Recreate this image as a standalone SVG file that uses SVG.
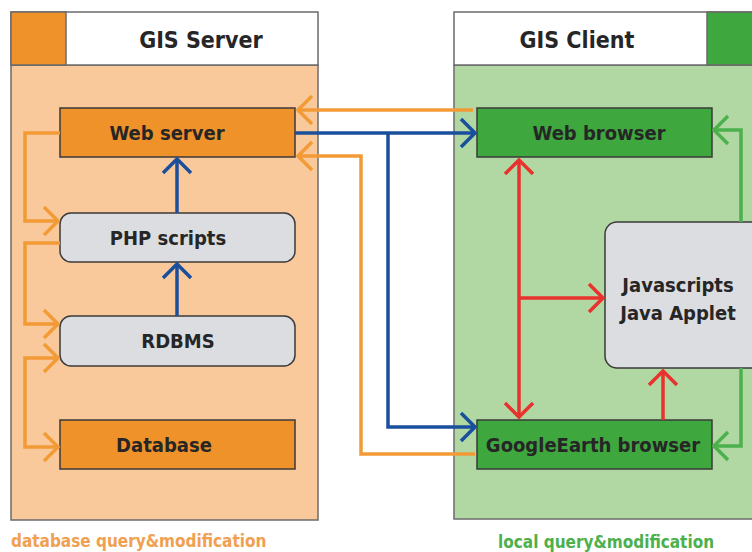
<svg xmlns="http://www.w3.org/2000/svg" width="752" height="552" viewBox="0 0 752 552">
<defs>
<style>
.panel{stroke:#6b6b6b;stroke-width:1.5}
.box{stroke:#3a3a3a;stroke-width:1.5}
.lbl{font-family:"DejaVu Sans Condensed","DejaVu Sans",sans-serif;font-weight:bold;font-size:20px;fill:#262626;text-anchor:middle}
.hdr{font-family:"DejaVu Sans Condensed","DejaVu Sans",sans-serif;font-weight:bold;font-size:23px;fill:#262626;text-anchor:middle}
.foot{font-family:"DejaVu Sans Condensed","DejaVu Sans",sans-serif;font-weight:bold;font-size:17px}
.c{fill:none;stroke-width:3.5}
.or{stroke:#f29b36}
.bl{stroke:#1a4f9c}
.rd{stroke:#e8322e}
.gr{stroke:#4cb04c}
</style>
<marker id="aO" viewBox="-16 -16 20 32" refX="0" refY="0" markerWidth="20" markerHeight="32" markerUnits="userSpaceOnUse" orient="auto-start-reverse"><path d="M-14,-14 L0,0 L-14,14" fill="none" stroke="#f29b36" stroke-width="3.5"/></marker>
<marker id="aB" viewBox="-16 -16 20 32" refX="0" refY="0" markerWidth="20" markerHeight="32" markerUnits="userSpaceOnUse" orient="auto-start-reverse"><path d="M-14,-14 L0,0 L-14,14" fill="none" stroke="#1a4f9c" stroke-width="3.5"/></marker>
<marker id="aR" viewBox="-16 -16 20 32" refX="0" refY="0" markerWidth="20" markerHeight="32" markerUnits="userSpaceOnUse" orient="auto-start-reverse"><path d="M-14,-14 L0,0 L-14,14" fill="none" stroke="#e8322e" stroke-width="3.5"/></marker>
<marker id="aG" viewBox="-16 -16 20 32" refX="0" refY="0" markerWidth="20" markerHeight="32" markerUnits="userSpaceOnUse" orient="auto-start-reverse"><path d="M-14,-14 L0,0 L-14,14" fill="none" stroke="#4cb04c" stroke-width="3.5"/></marker>
</defs>
<rect width="752" height="552" fill="#ffffff"/>

<g id="server-panel">
<rect class="panel" x="11" y="65" width="307" height="455" fill="#f9c99b"/>
<rect class="panel" x="11" y="12" width="307" height="53" fill="#ffffff"/>
<rect class="panel" x="11" y="12" width="55" height="53" fill="#f0922a"/>
<text class="hdr" x="201" y="48">GIS Server</text>
</g>
<g id="client-panel">
<rect class="panel" x="454" y="65" width="310" height="454" fill="#b1d8a2"/>
<rect class="panel" x="454" y="12" width="310" height="53" fill="#ffffff"/>
<rect class="panel" x="707" y="12" width="57" height="53" fill="#3ea83e"/>
<text class="hdr" x="577" y="48">GIS Client</text>
</g>

<g id="web-server"><rect class="box" x="60" y="108" width="235" height="49" fill="#f0922a"/><text class="lbl" x="167" y="140">Web server</text></g>
<g id="php-scripts"><rect class="box" x="60" y="213" width="235" height="49" rx="11" fill="#dcdde0"/><text class="lbl" x="168" y="245">PHP scripts</text></g>
<g id="rdbms"><rect class="box" x="60" y="316" width="235" height="50" rx="11" fill="#dcdde0"/><text class="lbl" x="178" y="348">RDBMS</text></g>
<g id="database"><rect class="box" x="60" y="420" width="235" height="49" fill="#f0922a"/><text class="lbl" x="164" y="452">Database</text></g>

<g id="web-browser"><rect class="box" x="477" y="108" width="235" height="49" fill="#3ea83e"/><text class="lbl" x="599" y="140">Web browser</text></g>
<g id="googleearth-browser"><rect class="box" x="477" y="420" width="235" height="49" fill="#3ea83e"/><text class="lbl" x="593" y="452">GoogleEarth browser</text></g>
<g id="javascripts"><rect class="box" x="605" y="222" width="160" height="146" rx="12" fill="#dcdde0"/><text class="lbl" x="678" y="292">Javascripts</text><text class="lbl" x="678" y="320">Java Applet</text></g>

<g id="connectors">
<path class="c or" d="M473,110 H298" marker-end="url(#aO)"/>
<path class="c bl" d="M295,133 H475" marker-end="url(#aB)"/>
<path class="c bl" d="M388,133 V427 H475" marker-end="url(#aB)"/>
<path class="c or" d="M475,454 H361 V156 H298" marker-end="url(#aO)"/>
<path class="c or" d="M60,133 H25 V221 H58" marker-end="url(#aO)"/>
<path class="c or" d="M60,243 H25 V324 H58" marker-end="url(#aO)"/>
<path class="c or" d="M58,358 H25 V447 H58" marker-start="url(#aO)" marker-end="url(#aO)"/>
<path class="c bl" d="M177,213 V159" marker-end="url(#aB)"/>
<path class="c bl" d="M177,316 V264" marker-end="url(#aB)"/>
<path class="c rd" d="M519,160 V417" marker-start="url(#aR)" marker-end="url(#aR)"/>
<path class="c rd" d="M519,298 H603" marker-end="url(#aR)"/>
<path class="c rd" d="M663,420 V371" marker-end="url(#aR)"/>
<path class="c gr" d="M741,222 V130 H714" marker-end="url(#aG)"/>
<path class="c gr" d="M741,368 V446 H714" marker-end="url(#aG)"/>
</g>

<text class="foot" x="11" y="547" fill="#f0a050">database query&amp;modification</text>
<text class="foot" x="498" y="548" fill="#4cb04c">local query&amp;modification</text>
</svg>
